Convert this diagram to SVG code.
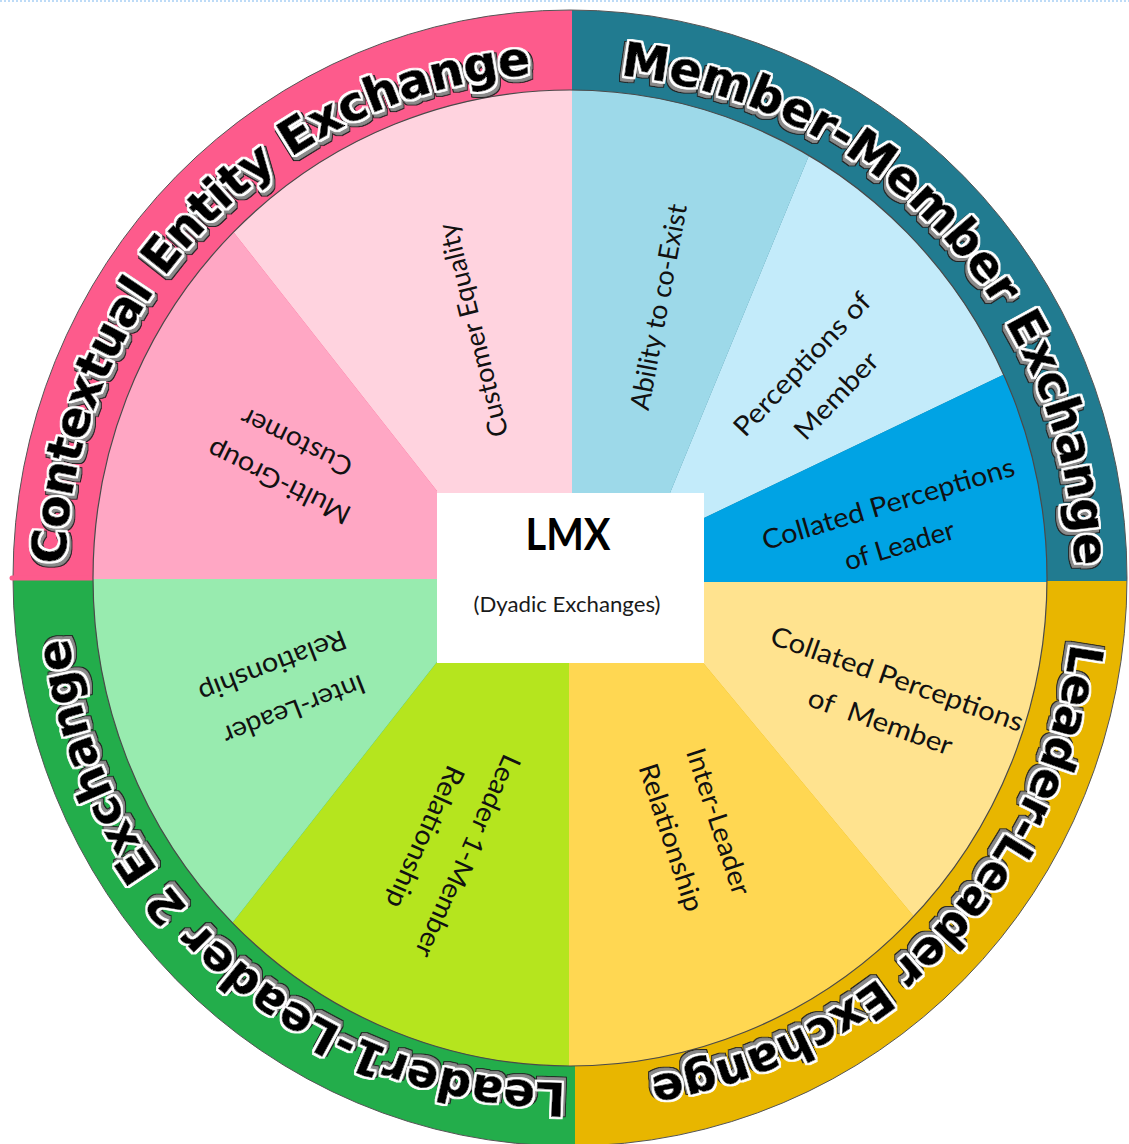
<svg xmlns="http://www.w3.org/2000/svg" width="1129" height="1144" viewBox="0 0 1129 1144">
  <style>
    .rt { font-family: "DejaVu Sans", "Liberation Sans", sans-serif; font-weight: bold; fill: #000000; stroke: #000000; stroke-width: 0.8; }
    .lbl { font-family: Lato, "Liberation Sans", sans-serif; font-size: 27px; fill: #111111; }
  </style>
  <defs>
    <clipPath id="outerClip"><ellipse cx="570" cy="578" rx="557" ry="568"/></clipPath>
    <clipPath id="innerClip"><ellipse cx="570" cy="578" rx="477" ry="488"/></clipPath>
    <path id="pTL" d="M 103.44 771.25 A 505 505 0 0 1 763.25 111.44"/>
    <path id="pTR" d="M 376.75 111.44 A 505 505 0 0 1 1036.56 771.25"/>
    <path id="pBR" d="M 1036.56 384.75 A 505 505 0 0 1 376.75 1044.56"/>
    <path id="pBL" d="M 763.25 1044.56 A 505 505 0 0 1 103.44 384.75"/>
    <filter id="fTL" filterUnits="userSpaceOnUse" x="0" y="0" width="1129" height="1144">
      <feMorphology in="SourceAlpha" operator="dilate" radius="1.6" result="halo"/>
      <feOffset in="halo" dx="2" dy="3" result="off"/>
      <feMorphology in="off" operator="dilate" radius="0.8" result="offEdge"/>
      <feFlood flood-color="#222222"/><feComposite in2="offEdge" operator="in" result="edge"/>
      <feFlood flood-color="#8a8a8a"/><feComposite in2="off" operator="in" result="shadow"/>
      <feFlood flood-color="#ffffff"/><feComposite in2="halo" operator="in" result="white"/>
      <feMerge><feMergeNode in="edge"/><feMergeNode in="shadow"/><feMergeNode in="white"/><feMergeNode in="SourceGraphic"/></feMerge>
    </filter>
    <filter id="fTR" filterUnits="userSpaceOnUse" x="0" y="0" width="1129" height="1144">
      <feMorphology in="SourceAlpha" operator="dilate" radius="1.6" result="halo"/>
      <feOffset in="halo" dx="-2" dy="3" result="off"/>
      <feMorphology in="off" operator="dilate" radius="0.8" result="offEdge"/>
      <feFlood flood-color="#222222"/><feComposite in2="offEdge" operator="in" result="edge"/>
      <feFlood flood-color="#8a8a8a"/><feComposite in2="off" operator="in" result="shadow"/>
      <feFlood flood-color="#ffffff"/><feComposite in2="halo" operator="in" result="white"/>
      <feMerge><feMergeNode in="edge"/><feMergeNode in="shadow"/><feMergeNode in="white"/><feMergeNode in="SourceGraphic"/></feMerge>
    </filter>
    <filter id="fBR" filterUnits="userSpaceOnUse" x="0" y="0" width="1129" height="1144">
      <feMorphology in="SourceAlpha" operator="dilate" radius="1.6" result="halo"/>
      <feOffset in="halo" dx="-2" dy="-3" result="off"/>
      <feMorphology in="off" operator="dilate" radius="0.8" result="offEdge"/>
      <feFlood flood-color="#222222"/><feComposite in2="offEdge" operator="in" result="edge"/>
      <feFlood flood-color="#8a8a8a"/><feComposite in2="off" operator="in" result="shadow"/>
      <feFlood flood-color="#ffffff"/><feComposite in2="halo" operator="in" result="white"/>
      <feMerge><feMergeNode in="edge"/><feMergeNode in="shadow"/><feMergeNode in="white"/><feMergeNode in="SourceGraphic"/></feMerge>
    </filter>
    <filter id="fBL" filterUnits="userSpaceOnUse" x="0" y="0" width="1129" height="1144">
      <feMorphology in="SourceAlpha" operator="dilate" radius="1.6" result="halo"/>
      <feOffset in="halo" dx="2" dy="-3" result="off"/>
      <feMorphology in="off" operator="dilate" radius="0.8" result="offEdge"/>
      <feFlood flood-color="#222222"/><feComposite in2="offEdge" operator="in" result="edge"/>
      <feFlood flood-color="#8a8a8a"/><feComposite in2="off" operator="in" result="shadow"/>
      <feFlood flood-color="#ffffff"/><feComposite in2="halo" operator="in" result="white"/>
      <feMerge><feMergeNode in="edge"/><feMergeNode in="shadow"/><feMergeNode in="white"/><feMergeNode in="SourceGraphic"/></feMerge>
    </filter>
  </defs>

  <rect x="0" y="0" width="1129" height="1144" fill="#ffffff"/>
  <line x1="0" y1="1" x2="1129" y2="1" stroke="#a8cff5" stroke-width="1.5" stroke-dasharray="2 2"/>

  <!-- Outer ring quadrants -->
  <g id="ring" clip-path="url(#outerClip)">
    <rect x="0" y="0" width="572" height="578" fill="#fd5b8c"/>
    <rect x="572" y="0" width="557" height="581" fill="#217b90"/>
    <rect x="575" y="581" width="554" height="563" fill="#e8b600"/>
    <rect x="0" y="578" width="575" height="566" fill="#23ad4b"/>
  </g>
  <ellipse cx="570" cy="578" rx="557" ry="568" fill="none" stroke="#555555" stroke-width="1"/>
  <line x1="12" y1="578" x2="98" y2="578" stroke="#fd5b8c" stroke-width="5" stroke-linecap="round"/>

  <!-- Inner sectors -->
  <g id="sectors" clip-path="url(#innerClip)">
    <g id="s-customer-equality"><polygon points="437,491 51,0 572,0 572,579 437,579" fill="#ffd3df"/></g>
    <g id="s-multi-group"><polygon points="0,0 51,0 437,491 437,579 0,579" fill="#ffa7c4"/></g>
    <g id="s-ability"><polygon points="572,0 873,0 670,493 572,493 572,582" fill="#9dd9e9"/></g>
    <g id="s-perceptions-member"><polygon points="873,0 1129,0 1129,314.6 704,518 704,493 670,493" fill="#c3ebfa"/></g>
    <g id="s-collated-leader"><polygon points="1129,314.6 1129,582 704,582 704,518" fill="#00a3e4"/></g>
    <g id="s-collated-member"><polygon points="704,582 1129,582 1129,1175.5 704,664" fill="#ffe38f"/></g>
    <g id="s-inter-leader-r"><polygon points="569,582 704,582 704,664 1129,1175.5 1129,1200 569,1200" fill="#ffd752"/></g>
    <g id="s-leader1-member"><polygon points="437,579 569,579 569,1200 15,1200 437,662" fill="#b5e51e"/></g>
    <g id="s-inter-leader-l"><polygon points="0,579 437,579 437,662 15,1200 0,1200" fill="#98ebaf"/></g>
  </g>
  <ellipse cx="570" cy="578" rx="477" ry="488" fill="none" stroke="#4a4a4a" stroke-width="1.2"/>

  <!-- Center box -->
  <g id="center-lmx">
    <rect x="437" y="493" width="267" height="170" fill="#ffffff"/>
    <text x="568" y="550" text-anchor="middle" font-family="Lato, 'Liberation Sans', sans-serif" font-weight="bold" font-size="43" fill="#000" textLength="85" lengthAdjust="spacingAndGlyphs">LMX</text>
    <text x="567" y="612" text-anchor="middle" font-family="Lato, 'Liberation Sans', sans-serif" font-size="21" fill="#1a1a1a" textLength="187" lengthAdjust="spacingAndGlyphs">(Dyadic Exchanges)</text>
  </g>

  <!-- Sector labels -->
  <g id="label-customer-equality">
    <text class="lbl" text-anchor="middle" y="9" transform="translate(473.5 330) rotate(-103.9)" textLength="219" lengthAdjust="spacingAndGlyphs">Customer Equality</text>
  </g>
  <g id="label-multi-group">
    <text class="lbl" text-anchor="middle" y="9" transform="translate(279 482) rotate(206.2)" textLength="156" lengthAdjust="spacingAndGlyphs">Multi-Group</text>
    <text class="lbl" text-anchor="middle" y="9" transform="translate(296.5 442) rotate(206.2)" textLength="121" lengthAdjust="spacingAndGlyphs">Customer</text>
  </g>
  <g id="label-ability">
    <text class="lbl" text-anchor="middle" y="9" transform="translate(659 307) rotate(-79.4)" textLength="209" lengthAdjust="spacingAndGlyphs">Ability to co-Exist</text>
  </g>
  <g id="label-perceptions-member">
    <text class="lbl" text-anchor="middle" y="9" transform="translate(802.3 364.4) rotate(-46.6)" textLength="186" lengthAdjust="spacingAndGlyphs">Perceptions of</text>
    <text class="lbl" text-anchor="middle" y="9" transform="translate(836.5 395.9) rotate(-46.6)" textLength="109" lengthAdjust="spacingAndGlyphs">Member</text>
  </g>
  <g id="label-collated-leader">
    <text class="lbl" text-anchor="middle" y="9" transform="translate(888.3 504) rotate(-16.65)" textLength="262" lengthAdjust="spacingAndGlyphs">Collated Perceptions</text>
    <text class="lbl" text-anchor="middle" y="9" transform="translate(899.5 545.7) rotate(-16.65)" textLength="114" lengthAdjust="spacingAndGlyphs">of Leader</text>
  </g>
  <g id="label-collated-member">
    <text class="lbl" text-anchor="middle" y="9" transform="translate(897 679.2) rotate(19.44)" textLength="266" lengthAdjust="spacingAndGlyphs">Collated Perceptions</text>
    <text class="lbl" text-anchor="middle" y="9" transform="translate(880.3 722) rotate(19.44)" textLength="151" lengthAdjust="spacingAndGlyphs" xml:space="preserve">of  Member</text>
  </g>
  <g id="label-inter-leader-r">
    <text class="lbl" text-anchor="middle" y="9" transform="translate(718.2 821.6) rotate(71.8)" textLength="153" lengthAdjust="spacingAndGlyphs">Inter-Leader</text>
    <text class="lbl" text-anchor="middle" y="9" transform="translate(670.8 837.5) rotate(71.8)" textLength="154" lengthAdjust="spacingAndGlyphs">Relationship</text>
  </g>
  <g id="label-leader1-member">
    <text class="lbl" text-anchor="middle" y="9" transform="translate(467.5 856) rotate(114.2)" textLength="219" lengthAdjust="spacingAndGlyphs">Leader 1-Member</text>
    <text class="lbl" text-anchor="middle" y="9" transform="translate(425 837) rotate(114.2)" textLength="153" lengthAdjust="spacingAndGlyphs">Relationship</text>
  </g>
  <g id="label-inter-leader-l">
    <text class="lbl" text-anchor="middle" y="9" transform="translate(294 709.5) rotate(158.8)" textLength="150" lengthAdjust="spacingAndGlyphs">Inter-Leader</text>
    <text class="lbl" text-anchor="middle" y="9" transform="translate(272.5 666) rotate(158.8)" textLength="156" lengthAdjust="spacingAndGlyphs">Relationship</text>
  </g>

  <!-- Ring titles -->
  <g id="title-contextual">
    <text class="rt" font-size="47.5" text-anchor="middle" filter="url(#fTL)"><textPath href="#pTL" startOffset="48.96%">Contextual Entity Exchange</textPath></text>
  </g>
  <g id="title-member-member">
    <text class="rt" font-size="47.5" text-anchor="middle" filter="url(#fTR)"><textPath href="#pTR" startOffset="51.6%">Member-Member Exchange</textPath></text>
  </g>
  <g id="title-leader-leader">
    <text class="rt" font-size="46.5" text-anchor="middle" filter="url(#fBR)"><textPath href="#pBR" startOffset="49.37%">Leader-Leader Exchange</textPath></text>
  </g>
  <g id="title-leader1-leader2">
    <text class="rt" font-size="46.5" text-anchor="middle" filter="url(#fBL)"><textPath href="#pBL" startOffset="47.67%">Leader1-Leader 2 Exchange</textPath></text>
  </g>
</svg>
